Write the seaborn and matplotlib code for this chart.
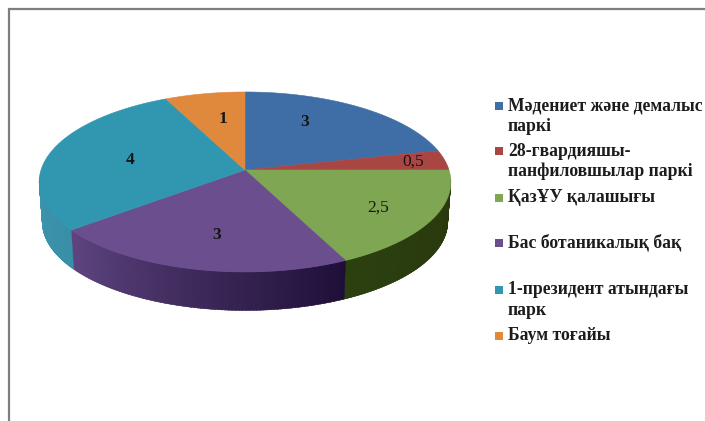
import numpy as np
import matplotlib
matplotlib.use("Agg")
import matplotlib.pyplot as plt
import matplotlib.colors as mc
from matplotlib.collections import PolyCollection
import seaborn as sns

categories = ["Мәдениет және демалыс\nпаркі", "28-гвардияшы-\nпанфиловшылар паркі",
              "ҚазҰУ қалашығы", "Бас ботаникалық бақ",
              "1-президент атындағы\nпарк", "Баум тоғайы"]
values = [3, 0.5, 2.5, 3, 4, 1]
value_labels = ["3", "0,5", "2,5", "3", "4", "1"]
colors = ["#3f6ea6", "#a94644", "#7fa653", "#6a4e8e", "#3196b0", "#e0883c"]

# layout (pixels)
CX, CY, A, B, K, DEPTH = 245, 170, 204, 88.4, 0.133, 40
label_xy = [(305, 122), (413, 162), (378, 208), (217, 235), (130, 160), (223, 119)]
legend_y = [106, 151, 198, 243, 290, 336]
LINE = 20.5

sns.set_theme(style="white")
plt.rcParams["font.family"] = ["Liberation Serif", "DejaVu Serif"]
palette = sns.color_palette(colors)

fig = plt.figure(figsize=(7.05, 4.21), dpi=100)
ax = fig.add_axes([0, 0, 1, 1])
ax.set_xlim(0, 705)
ax.set_ylim(421, 0)
ax.axis("off")


def project(theta, r=1.0, scale=1.0, dy=0.0):
    u, v = r * np.sin(theta), r * np.cos(theta)
    den = 1 + K * v
    return CX + scale * A * u / den, CY + dy - scale * B * v / den


edges = np.concatenate([[0], np.cumsum(values)]) / np.sum(values) * 2 * np.pi

# side wall, built from the wedge angles: (right colour, left colour)
side_styles = {
    2: ((0.16, 0.22, 0.05), (0.17, 0.25, 0.06)),
    3: ((0.12, 0.06, 0.22), (0.37, 0.27, 0.50)),
    4: ((0.22, 0.56, 0.65), (0.24, 0.58, 0.68)),
}
for i, (start, end) in enumerate(zip(edges[:-1], edges[1:])):
    if i not in side_styles:
        continue
    th = np.linspace(max(start, np.pi / 2 + 0.09), min(end, 3 * np.pi / 2 - 0.09), 90)
    c0, c1 = np.array(side_styles[i][0]), np.array(side_styles[i][1])
    polys, cols = [], []
    for j in range(len(th) - 1):
        x0, y0 = project(th[j])
        x1, y1 = project(th[j + 1] + 0.01)
        x2, y2 = project(th[j + 1] + 0.01, scale=0.985, dy=DEPTH)
        x3, y3 = project(th[j], scale=0.985, dy=DEPTH)
        polys.append([(x0, y0), (x1, y1), (x2, y2), (x3, y3)])
        t = j / (len(th) - 2)
        cols.append(c0 * (1 - t) + c1 * t)
    ax.add_collection(PolyCollection(polys, facecolors=cols, edgecolors=cols, linewidths=0.3))

# top face
for i, (start, end) in enumerate(zip(edges[:-1], edges[1:])):
    th = np.linspace(start, end, 120)
    x, y = project(th)
    ax.fill(np.r_[CX, x], np.r_[CY, y], color=palette[i], lw=0.4, zorder=3)

# value labels
for i, (lx, ly) in enumerate(label_xy):
    ax.text(lx, ly, value_labels[i], ha="center", va="center", fontsize=12.5,
            color="#151515", fontweight="bold" if i in (0, 3, 4, 5) else "normal", zorder=5)

# legend
for i, (name, y) in enumerate(zip(categories, legend_y)):
    ax.fill([495, 503, 503, 495], [y - 4, y - 4, y + 4, y + 4], color=palette[i], lw=0)
    for j, line in enumerate(name.split("\n")):
        ax.text(508, y + j * LINE, line, ha="left", va="center", fontsize=12.7,
                fontweight="bold", color="#1c1c1c", clip_on=True)

# picture frame
ax.plot([8.5, 8.5, 705], [421, 9, 9], color="#7f7f7f", lw=1.6, zorder=6, solid_joinstyle="miter")

fig.savefig("out.png", dpi=100, facecolor="white")
